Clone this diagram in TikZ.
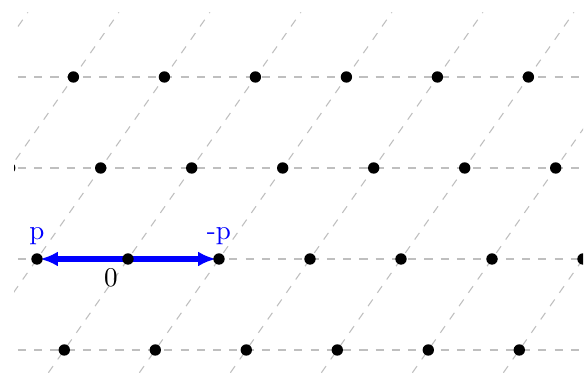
\documentclass[tikz,border=0pt]{standalone}
\usetikzlibrary{arrows.meta}
\begin{document}
\begin{tikzpicture}[x=1.18cm,y=1.18cm,
  dot/.style={circle,fill=black,inner sep=0pt,minimum size=4.2pt},
  gridline/.style={dashed,black!25,line width=0.4pt},
  vec/.style={blue,line width=2pt,shorten <=1.2pt,shorten >=1.2pt,
    {Latex[length=6.5pt,width=5.5pt]}-{Latex[length=6.5pt,width=5.5pt]}},
  lab/.style={text=blue}]
\useasboundingbox (-1.4066,-1.242) rectangle (5.055,2.846);
\begin{scope}
  \clip (-1.25,-1.25) rectangle (5,2.71);
  \foreach \j in {-1,0,1,2}
    \draw[gridline] (-1.21,\j) -- (5.2,\j);
  \foreach \i in {-4,...,6}
    \draw[gridline] ({\i-0.875},-1.25) -- ({\i+1.9},2.71);
  \foreach \j in {0,...,3}
    \foreach \i in {0,...,10}
      \coordinate (v\i\j) at ({\i-4+0.7*(\j-1)},{\j-1});
\end{scope}
\draw[vec] (v31) -- (v51);
\begin{scope}
  \clip (-1.25,-1.25) rectangle (5,2.71);
  \foreach \j in {0,...,3}
    \foreach \i in {0,...,10}
      \node[dot] (dot\i\j) at (v\i\j) {};
\end{scope}
\node[lab] (lp) at ([yshift=8.5pt]v31) {p};
\node[lab] (lmp) at ([yshift=8.5pt]v51) {-p};
\node (lzero) at ([xshift=-6.3pt,yshift=-6.8pt]v41) {0};
\end{tikzpicture}
\end{document}
